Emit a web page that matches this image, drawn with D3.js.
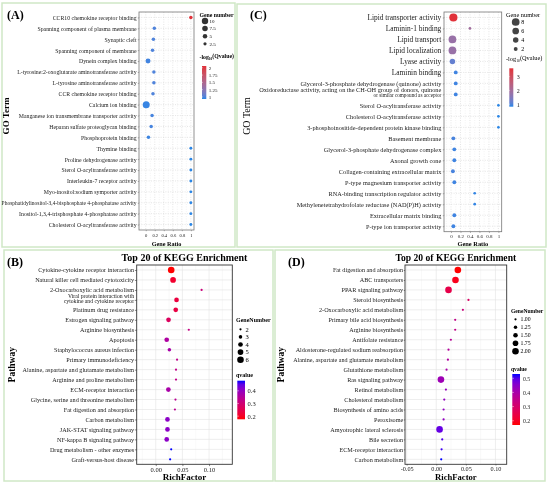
<!DOCTYPE html>
<html>
<head>
<meta charset="utf-8">
<script src="https://cdn.jsdelivr.net/npm/d3@7"></script>
<style>
  body { margin: 0; background: #fff; }
  svg { display: block; will-change: transform; -webkit-font-smoothing: antialiased; }
</style>
</head>
<body>
<div id="chart"></div>
<script>
// ---------------- data ----------------
// (A) GO terms
const goTermsA = [
  "CCR10 chemokine receptor binding",
  "Spanning component of plasma membrane",
  "Synaptic cleft",
  "Spanning component of membrane",
  "Dynein complex binding",
  "L-tyrosine:2-oxoglutarate aminotransferase activity",
  "L-tyrosine aminotransferase activity",
  "CCR chemokine receptor binding",
  "Calcium ion binding",
  "Manganese ion transmembrane transporter activity",
  "Heparan sulfate proteoglycan binding",
  "Phosphoprotein binding",
  "Thymine binding",
  "Proline dehydrogenase activity",
  "Sterol O-acyltransferase activity",
  "Interleukin-7 receptor activity",
  "Myo-inositol:sodium symporter activity",
  "Phosphatidylinositol-3,4-bisphosphate 4-phosphatase activity",
  "Inositol-1,3,4-trisphosphate 4-phosphatase activity",
  "Cholesterol O-acyltransferase activity"
];
const geneRatioA = [1, 0.19, 0.17, 0.15, 0.05, 0.18, 0.18, 0.16, 0.01, 0.14, 0.12, 0.06, 1, 1, 1, 1, 1, 1, 1, 1];
const geneCountA = [3, 3, 3, 3, 6, 3, 3, 3, 12, 3, 3, 3, 2, 2, 2, 2, 2, 2, 2, 2];
const logQA = [2.06, 1.0, 1.0, 1.0, 0.97, 1.0, 1.0, 1.0, 0.95, 0.98, 0.98, 0.96, 0.93, 0.93, 0.93, 0.93, 0.93, 0.93, 0.93, 0.93];

// (C) GO terms
const goTermsC = [
  "Lipid transporter activity",
  "Laminin-1 binding",
  "Lipid transport",
  "Lipid localization",
  "Lyase activity",
  "Laminin binding",
  "Glycerol-3-phosphate dehydrogenase (quinone) activity",
  "Oxidoreductase activity, acting on the CH-OH group of donors, quinone\nor similar compound as acceptor",
  "Sterol O-acyltransferase activity",
  "Cholesterol O-acyltransferase activity",
  "3-phosphoinositide-dependent protein kinase binding",
  "Basement membrane",
  "Glycerol-3-phosphate dehydrogenase complex",
  "Axonal growth cone",
  "Collagen-containing extracellular matrix",
  "P-type magnesium transporter activity",
  "RNA-binding transcription regulator activity",
  "Methylenetetrahydrofolate reductase (NAD(P)H) activity",
  "Extracellular matrix binding",
  "P-type ion transporter activity"
];
const geneRatioC = [0.05, 0.4, 0.03, 0.03, 0.03, 0.1, 0.1, 0.1, 1, 1, 1, 0.05, 0.07, 0.07, 0.04, 0.07, 0.5, 0.5, 0.07, 0.05];
const geneCountC = [9, 1, 8, 8, 4, 2, 2, 2, 1, 1, 1, 2, 2, 2, 2, 2, 1, 1, 2, 2];
const logQC = [3.6, 1.95, 1.8, 1.8, 1.15, 0.9, 0.9, 0.9, 0.82, 0.82, 0.82, 0.95, 0.9, 0.9, 0.95, 0.9, 0.85, 0.85, 0.9, 0.9];

// (B) KEGG pathways
const keggPathB = [
  "Cytokine-cytokine receptor interaction",
  "Natural killer cell mediated cytotoxicity",
  "2-Oxocarboxylic acid metabolism",
  "Viral protein interaction with\ncytokine and cytokine receptor",
  "Platinum drug resistance",
  "Estrogen signaling pathway",
  "Arginine biosynthesis",
  "Apoptosis",
  "Staphylococcus aureus infection",
  "Primary immunodeficiency",
  "Alanine, aspartate and glutamate metabolism",
  "Arginine and proline metabolism",
  "ECM-receptor interaction",
  "Glycine, serine and threonine metabolism",
  "Fat digestion and absorption",
  "Carbon metabolism",
  "JAK-STAT signaling pathway",
  "NF-kappa B signaling pathway",
  "Drug metabolism - other enzymes",
  "Graft-versus-host disease"
];
const richFactorB = [0.029, 0.0325, 0.086, 0.039, 0.0375, 0.024, 0.062, 0.0206, 0.0256, 0.04, 0.038, 0.038, 0.0237, 0.037, 0.036, 0.022, 0.022, 0.0206, 0.029, 0.027];
const geneNumB = [6, 5, 2, 4, 4, 4, 2, 4, 3, 2, 2, 2, 4, 2, 2, 4, 4, 4, 2, 2];
const qvalueB = [0.175, 0.21, 0.31, 0.23, 0.235, 0.27, 0.32, 0.36, 0.37, 0.33, 0.33, 0.33, 0.37, 0.34, 0.34, 0.41, 0.41, 0.41, 0.48, 0.48];

// (D) KEGG pathways
const keggPathD = [
  "Fat digestion and absorption",
  "ABC transporters",
  "PPAR signaling pathway",
  "Steroid biosynthesis",
  "2-Oxocarboxylic acid metabolism",
  "Primary bile acid biosynthesis",
  "Arginine biosynthesis",
  "Antifolate resistance",
  "Aldosterone-regulated sodium reabsorption",
  "Alanine, aspartate and glutamate metabolism",
  "Glutathione metabolism",
  "Ras signaling pathway",
  "Retinol metabolism",
  "Cholesterol metabolism",
  "Biosynthesis of amino acids",
  "Peroxisome",
  "Amyotrophic lateral sclerosis",
  "Bile secretion",
  "ECM-receptor interaction",
  "Carbon metabolism"
];
const richFactorD = [0.0365, 0.0325, 0.0207, 0.0544, 0.045, 0.032, 0.032, 0.0247, 0.0207, 0.0197, 0.0174, 0.0079, 0.0163, 0.0135, 0.0124, 0.0124, 0.0056, 0.0101, 0.009, 0.0084];
const geneNumD = [2, 2, 2, 1, 1, 1, 1, 1, 1, 1, 1, 2, 1, 1, 1, 1, 2, 1, 1, 1];
const qvalueD = [0.17, 0.19, 0.25, 0.29, 0.33, 0.35, 0.35, 0.37, 0.38, 0.385, 0.40, 0.42, 0.43, 0.44, 0.44, 0.44, 0.49, 0.505, 0.515, 0.53];

// ticks and legend keys
const ratioTicks = [0, 0.2, 0.4, 0.6, 0.8, 1];
const richTicksB = [0, 0.05, 0.1];
const richTicksD = [-0.05, 0, 0.05, 0.1];
const sizeKeyA = [10, 7.5, 5, 2.5];
const colorKeyA = [2, 1.75, 1.5, 1.25, 1];
const sizeKeyC = [8, 6, 4, 2];
const colorKeyC = [3, 2, 1];
const sizeKeyB = [2, 3, 4, 5, 6];
const colorKeyB = [0.4, 0.3, 0.2];
const sizeKeyD = [1, 1.25, 1.5, 1.75, 2];
const colorKeyD = [0.5, 0.4, 0.3, 0.2];

// ---------------- drawing ----------------
const FONT = "'Liberation Serif', 'Times New Roman', serif";

const svg = d3.select("#chart")
  .append("svg")
  .attr("width", 550)
  .attr("height", 486)
  .style("font-family", FONT);

// light green frames round the four panels
[[2, 3, 233, 244], [237, 4, 309, 243], [4, 250, 269, 231], [275, 250, 270, 231]]
  .forEach(([x, y, w, h]) => {
    svg.append("rect")
      .attr("x", x).attr("y", y).attr("width", w).attr("height", h)
      .attr("fill", "none")
      .attr("stroke", "#cfe8c6")
      .attr("stroke-width", 1.5);
  });

function dotPanel(p) {
  const g = svg.append("g");
  const n = p.cats.length;
  const x = d3.scaleLinear().domain(p.xDomain).range([p.left, p.right]);
  const y = d3.scalePoint().domain(p.cats).range([p.top, p.bottom]).padding(0.5);
  const r = d3.scaleSqrt().domain(p.rDomain).range(p.rRange);
  const interp = d3.interpolateLab(p.low, p.high);
  const cExtent = d3.extent(p.cv);
  const color = d3.scaleSequential(interp).domain(cExtent);

  // background
  g.append("rect")
    .attr("x", p.left).attr("y", p.top)
    .attr("width", p.right - p.left).attr("height", p.bottom - p.top)
    .attr("fill", "#fff");

  // grid
  const step = p.xTicks[1] - p.xTicks[0];
  const minor = d3.range(p.xTicks[0] - step / 2, p.xDomain[1], step)
    .filter((v) => v > p.xDomain[0]);
  g.append("g").selectAll("line")
    .data(minor)
    .join("line")
    .attr("x1", (d) => x(d)).attr("x2", (d) => x(d))
    .attr("y1", p.top).attr("y2", p.bottom)
    .attr("stroke", p.grid.minor)
    .attr("stroke-width", p.grid.width * 0.7)
    .attr("stroke-dasharray", p.grid.dash);
  g.append("g").selectAll("line")
    .data(p.xTicks)
    .join("line")
    .attr("x1", (d) => x(d)).attr("x2", (d) => x(d))
    .attr("y1", p.top).attr("y2", p.bottom)
    .attr("stroke", p.grid.major)
    .attr("stroke-width", p.grid.width)
    .attr("stroke-dasharray", p.grid.dash);
  g.append("g").selectAll("line")
    .data(p.cats)
    .join("line")
    .attr("x1", p.left).attr("x2", p.right)
    .attr("y1", (d) => y(d)).attr("y2", (d) => y(d))
    .attr("stroke", p.grid.major)
    .attr("stroke-width", p.grid.width)
    .attr("stroke-dasharray", p.grid.dash);

  // dots
  g.append("g").selectAll("circle")
    .data(d3.range(n))
    .join("circle")
    .attr("cx", (i) => x(p.xv[i]))
    .attr("cy", (i) => y(p.cats[i]))
    .attr("r", (i) => r(p.nv[i]))
    .attr("fill", (i) => color(p.cv[i]));

  // frame
  g.append("rect")
    .attr("x", p.left).attr("y", p.top)
    .attr("width", p.right - p.left).attr("height", p.bottom - p.top)
    .attr("fill", "none")
    .attr("stroke", p.frame)
    .attr("stroke-width", p.frameWidth);

  // x axis
  const xa = g.append("g")
    .attr("transform", `translate(0,${p.bottom})`)
    .call(d3.axisBottom(x).tickValues(p.xTicks).tickFormat(p.fmt).tickSize(p.tick).tickPadding(p.xPad));
  xa.select(".domain").remove();
  xa.attr("font-family", FONT).attr("font-size", p.xFont);
  xa.selectAll("line").attr("stroke", p.frame).attr("stroke-width", 0.6);
  xa.selectAll("text").attr("fill", "#222");

  // y axis
  const ya = g.append("g")
    .attr("transform", `translate(${p.left},0)`)
    .call(d3.axisLeft(y).tickSize(p.tick).tickPadding(p.yPad));
  ya.select(".domain").remove();
  ya.attr("font-family", FONT);
  ya.selectAll("line").attr("stroke", p.frame).attr("stroke-width", 0.6);
  ya.selectAll(".tick text")
    .attr("fill", "#1a1a1a")
    .attr("font-size", (d, i) => p.yFont(i))
    .each(function (d) {
      const lines = d.split("\n");
      const t = d3.select(this);
      if (lines.length > 1) {
        const x0 = t.attr("x");
        t.text(null).attr("font-size", p.multiFont);
        t.append("tspan").attr("x", x0).attr("dy", "-0.42em").text(lines[0]);
        t.append("tspan").attr("x", x0).attr("dy", "0.95em")
          .attr("font-size", p.subLine).text(lines[1]);
      } else if (this.getComputedTextLength() > p.labelMax) {
        t.attr("textLength", p.labelMax).attr("lengthAdjust", "spacingAndGlyphs");
      }
    });

  // axis titles
  g.append("text")
    .attr("x", (p.left + p.right) / 2)
    .attr("y", p.xTitleY)
    .attr("text-anchor", "middle")
    .attr("font-size", p.xTitleFont)
    .attr("font-weight", "bold")
    .text(p.xTitle);
  g.append("text")
    .attr("transform", `translate(${p.yTitleX},${p.yTitleY}) rotate(-90)`)
    .attr("text-anchor", "middle")
    .attr("font-size", p.yTitleFont)
    .attr("font-weight", p.yTitleWeight)
    .text(p.yTitle);

  // panel letter and title
  g.append("text")
    .attr("x", p.letterX).attr("y", p.letterY)
    .attr("font-size", 12).attr("font-weight", "bold")
    .text(p.letter);
  if (p.title) {
    g.append("text")
      .attr("x", (p.left + p.right) / 2).attr("y", p.top - 4.5)
      .attr("text-anchor", "middle")
      .attr("font-size", p.titleFont).attr("font-weight", "bold")
      .text(p.title);
  }

  // size legend
  const L = p.legend;
  g.append("text")
    .attr("x", L.x).attr("y", L.sizeTitleY)
    .attr("font-size", L.titleFont).attr("font-weight", L.titleWeight)
    .text(L.sizeTitle);
  const sk = g.append("g").selectAll("g")
    .data(p.sizeKey)
    .join("g")
    .attr("transform", (d, i) => `translate(${L.dotX},${L.sizeY0 + i * L.sizeStep})`);
  sk.append("circle").attr("r", (d) => r(d)).attr("fill", L.dotFill);
  sk.append("text")
    .attr("x", L.labelDx).attr("dy", "0.35em")
    .attr("font-size", L.labelFont)
    .text((d) => p.keyFmt(d));

  // colour legend
  const ct = g.append("text")
    .attr("x", L.x).attr("y", L.colorTitleY)
    .attr("font-size", L.titleFont).attr("font-weight", L.titleWeight);
  if (p.logTitle) {
    ct.append("tspan").text("-log");
    ct.append("tspan").attr("font-size", L.titleFont * 0.6).attr("dy", "0.3em").text("10");
    ct.append("tspan").attr("dy", "-0.3em").text("(Qvalue)");
  } else {
    ct.text(L.colorTitle);
  }
  const gid = "grad" + p.letter.replace(/\W/g, "");
  const grad = svg.append("defs").append("linearGradient")
    .attr("id", gid)
    .attr("x1", 0).attr("y1", 1).attr("x2", 0).attr("y2", 0);
  d3.range(0, 1.0001, 0.1).forEach((t) => {
    grad.append("stop").attr("offset", t).attr("stop-color", interp(t));
  });
  g.append("rect")
    .attr("x", L.barX).attr("y", L.barTop)
    .attr("width", L.barW).attr("height", L.barBottom - L.barTop)
    .attr("fill", `url(#${gid})`);
  const barY = d3.scaleLinear().domain(cExtent).range([L.barBottom, L.barTop]);
  const ca = g.append("g")
    .attr("transform", `translate(${L.barX + L.barW},0)`)
    .call(d3.axisRight(barY).tickValues(p.colorKey).tickFormat(p.colorFmt).tickSize(0).tickPadding(L.barPad));
  ca.select(".domain").remove();
  ca.attr("font-family", FONT).attr("font-size", L.labelFont);
  ca.selectAll("text").attr("fill", "#222");
  g.append("g").selectAll("line")
    .data(p.colorKey)
    .join("line")
    .attr("x1", L.barX).attr("x2", L.barX + L.barW * 0.2)
    .attr("y1", (d) => barY(d)).attr("y2", (d) => barY(d))
    .attr("stroke", "#fff").attr("stroke-width", 0.5);
}

const dottedGrid = { major: "#d4d4d4", minor: "#e2e2e2", width: 0.6, dash: "1,1.4" };
const bwGrid = { major: "#e3e3e3", minor: "#f1f1f1", width: 0.6, dash: null };
const blueRed = { low: "#2a86e6", high: "#e1313a" };

// (A)
dotPanel({
  letter: "(A)", letterX: 7, letterY: 19,
  cats: goTermsA, xv: geneRatioA, nv: geneCountA, cv: logQA,
  left: 139, right: 194, top: 12, bottom: 230,
  xDomain: [-0.15, 1.07], xTicks: ratioTicks, fmt: (d) => String(d),
  rDomain: [0, 12], rRange: [0, 3.5],
  low: blueRed.low, high: blueRed.high,
  grid: dottedGrid, frame: "#777", frameWidth: 0.8,
  tick: 1.2, xPad: 2.5, yPad: 1.2, xFont: 4.6,
  yFont: () => 5.8, multiFont: 5.8, subLine: 5, labelMax: 135,
  xTitle: "Gene Ratio", xTitleY: 245.5, xTitleFont: 6.2,
  yTitle: "GO Term", yTitleX: 9, yTitleY: 116, yTitleFont: 9, yTitleWeight: "bold",
  sizeKey: sizeKeyA, keyFmt: (d) => String(d),
  colorKey: colorKeyA, colorFmt: (d) => String(d), logTitle: true,
  legend: {
    x: 199.5, sizeTitle: "Gene number", sizeTitleY: 16.5, titleFont: 5.8, titleWeight: "bold",
    dotX: 205, sizeY0: 21, sizeStep: 7.6, dotFill: "#333", labelDx: 4.5, labelFont: 5,
    colorTitleY: 59, barX: 202, barW: 4.3, barTop: 66, barBottom: 99, barPad: 2.5
  }
});

// (C)
dotPanel({
  letter: "(C)", letterX: 250, letterY: 18.5,
  cats: goTermsC, xv: geneRatioC, nv: geneCountC, cv: logQC,
  left: 444, right: 501.7, top: 12, bottom: 231.7,
  xDomain: [-0.148, 1.07], xTicks: ratioTicks, fmt: (d) => String(d),
  rDomain: [0, 9], rRange: [0, 4.1],
  low: blueRed.low, high: blueRed.high,
  grid: dottedGrid, frame: "#777", frameWidth: 0.8,
  tick: 1.2, xPad: 1.8, yPad: 1.5, xFont: 5,
  yFont: (i) => (i < 6 ? 7.4 : 6.3), multiFont: 6.3, subLine: 5.2, labelMax: 190,
  xTitle: "Gene Ratio", xTitleY: 245.5, xTitleFont: 6.4,
  yTitle: "GO Term", yTitleX: 249.5, yTitleY: 116, yTitleFont: 10, yTitleWeight: "normal",
  sizeKey: sizeKeyC, keyFmt: (d) => String(d),
  colorKey: colorKeyC, colorFmt: (d) => String(d), logTitle: true,
  legend: {
    x: 506, sizeTitle: "Gene number", sizeTitleY: 17, titleFont: 6.3, titleWeight: "normal",
    dotX: 515.7, sizeY0: 22, sizeStep: 9, dotFill: "#444", labelDx: 5.5, labelFont: 6,
    colorTitleY: 60.5, barX: 509.3, barW: 4, barTop: 68.3, barBottom: 106.7, barPad: 3.5
  }
});

// (B)
dotPanel({
  letter: "(B)", letterX: 7, letterY: 265.5, title: "Top 20 of KEGG Enrichment", titleFont: 10,
  cats: keggPathB, xv: richFactorB, nv: geneNumB, cv: qvalueB,
  left: 136.7, right: 232.3, top: 265, bottom: 464.3,
  xDomain: [-0.0357, 0.1436], xTicks: richTicksB, fmt: (d) => d.toFixed(2),
  rDomain: [2, 6], rRange: [1.1, 3.3],
  low: "#ff0000", high: "#0000ff",
  grid: bwGrid, frame: "#333", frameWidth: 0.9,
  tick: 1.8, xPad: 0.8, yPad: 0.8, xFont: 6.5,
  yFont: () => 6.2, multiFont: 5.7, subLine: 5.7, labelMax: 126,
  xTitle: "RichFactor", xTitleY: 479.5, xTitleFont: 9,
  yTitle: "Pathway", yTitleX: 15, yTitleY: 364.7, yTitleFont: 9.5, yTitleWeight: "bold",
  sizeKey: sizeKeyB, keyFmt: (d) => String(d),
  colorKey: colorKeyB, colorFmt: (d) => String(d), logTitle: false,
  legend: {
    x: 236, sizeTitle: "GeneNumber", sizeTitleY: 322, titleFont: 6, titleWeight: "bold",
    dotX: 240.5, sizeY0: 329.3, sizeStep: 7.6, dotFill: "#000", labelDx: 5, labelFont: 6.5,
    colorTitle: "qvalue", colorTitleY: 377, barX: 237.3, barW: 7.7, barTop: 380.7, barBottom: 419.3, barPad: 2.5
  }
});

// (D)
dotPanel({
  letter: "(D)", letterX: 288, letterY: 265.5, title: "Top 20 of KEGG Enrichment", titleFont: 9.6,
  cats: keggPathD, xv: richFactorD, nv: geneNumD, cv: qvalueD,
  left: 405, right: 506.7, top: 265, bottom: 464.3,
  xDomain: [-0.0528, 0.119], xTicks: richTicksD, fmt: (d) => d.toFixed(2),
  rDomain: [1, 2], rRange: [1.1, 3.3],
  low: "#ff0000", high: "#0000ff",
  grid: bwGrid, frame: "#333", frameWidth: 0.9,
  tick: 1.2, xPad: 0.8, yPad: 0.6, xFont: 6.2,
  yFont: () => 6.2, multiFont: 6.2, subLine: 6.2, labelMax: 110,
  xTitle: "RichFactor", xTitleY: 479.5, xTitleFont: 8.6,
  yTitle: "Pathway", yTitleX: 283.5, yTitleY: 364.7, yTitleFont: 9.5, yTitleWeight: "bold",
  sizeKey: sizeKeyD, keyFmt: (d) => d.toFixed(2),
  colorKey: colorKeyD, colorFmt: (d) => String(d), logTitle: false,
  legend: {
    x: 511, sizeTitle: "GeneNumber", sizeTitleY: 313, titleFont: 5.6, titleWeight: "bold",
    dotX: 515.5, sizeY0: 319.3, sizeStep: 8, dotFill: "#000", labelDx: 5, labelFont: 5.8,
    colorTitle: "qvalue", colorTitleY: 370.5, barX: 512.3, barW: 7.7, barTop: 374, barBottom: 425, barPad: 3
  }
});
</script>
</body>
</html>
